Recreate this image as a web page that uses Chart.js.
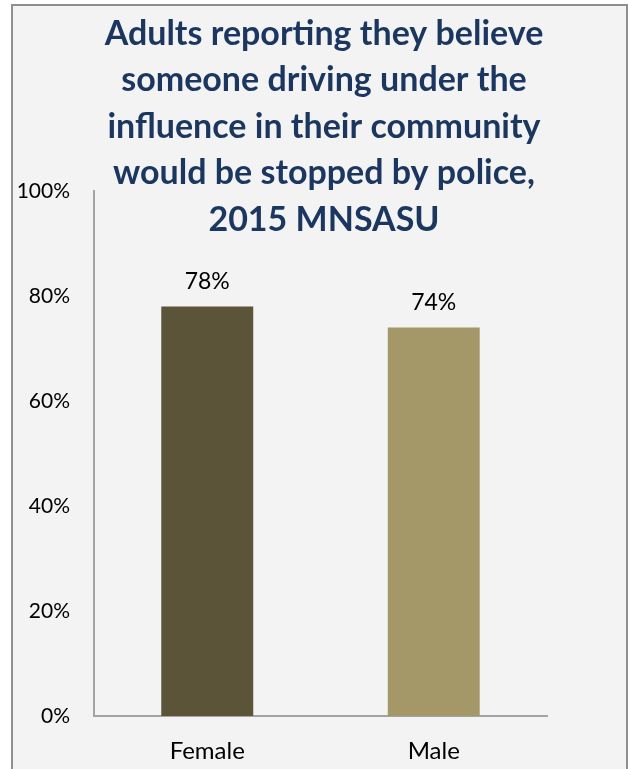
<!DOCTYPE html>
<html>
<head>
<meta charset="utf-8">
<script src="https://cdn.jsdelivr.net/npm/chart.js@4.4.1/dist/chart.umd.min.js"></script>
<style>
  html, body { margin: 0; padding: 0; background: #ffffff; }
  #wrap { width: 628px; height: 769px; position: relative; }
</style>
</head>
<body>
<div id="wrap"><canvas id="chart"></canvas></div>
<script>
// chart data
const categories = ['Female', 'Male'];
const percentValues = [78, 74];
const barColors = ['#5c5438', '#a59868'];
const titleLines = [
  'Adults reporting they believe',
  'someone driving under the',
  'influence in their community',
  'would be stopped by police,',
  '2015 MNSASU'
];

const FONT = 'Lato, "Open Sans", sans-serif';

// grey panel with a border behind everything
const panelPlugin = {
  id: 'panel',
  beforeDraw(chart) {
    const ctx = chart.ctx;
    ctx.save();
    ctx.fillStyle = '#ffffff';
    ctx.fillRect(0, 0, chart.width, chart.height);
    ctx.fillStyle = '#f3f3f3';
    ctx.fillRect(12, 5, 615, 780);
    ctx.strokeStyle = '#8f8f8f';
    ctx.lineWidth = 2;
    ctx.strokeRect(12, 5, 615, 780);
    ctx.restore();
  }
};

// multi-line title that sits over the top of the plot
const titlePlugin = {
  id: 'bigTitle',
  afterDraw(chart) {
    const ctx = chart.ctx;
    ctx.save();
    ctx.fillStyle = '#1b365f';
    ctx.font = 'bold 34px ' + FONT;
    ctx.textAlign = 'center';
    ctx.textBaseline = 'middle';
    titleLines.forEach((line, i) => {
      ctx.fillText(line, 324, 34 + i * 46.5);
    });
    ctx.restore();
  }
};

// percentage labels above each bar
const valueLabels = {
  id: 'valueLabels',
  afterDatasetsDraw(chart) {
    const ctx = chart.ctx;
    const meta = chart.getDatasetMeta(0);
    ctx.save();
    ctx.fillStyle = '#000000';
    ctx.font = '23px ' + FONT;
    ctx.textAlign = 'center';
    ctx.textBaseline = 'middle';
    meta.data.forEach((bar, i) => {
      ctx.fillText(percentValues[i] + '%', bar.x, bar.y - 25);
    });
    ctx.restore();
  }
};

new Chart(document.getElementById('chart'), {
  type: 'bar',
  data: {
    labels: categories,
    datasets: [{
      data: percentValues,
      backgroundColor: barColors,
      borderWidth: 0,
      barPercentage: 0.406,
      categoryPercentage: 1
    }]
  },
  options: {
    responsive: true,
    maintainAspectRatio: false,
    animation: false,
    layout: { padding: { left: 0, right: 81, top: 191, bottom: 0 } },
    plugins: {
      legend: { display: false },
      title: { display: false },
      tooltip: { enabled: false }
    },
    scales: {
      x: {
        grid: { display: false, drawTicks: false },
        border: { display: true, color: '#a3a3a3', width: 2 },
        ticks: { color: '#000000', font: { family: FONT, size: 24 }, padding: 21 },
        afterFit(scale) { scale.height = 53; }
      },
      y: {
        min: 0,
        max: 100,
        grid: { display: false, drawTicks: false },
        border: { display: true, color: '#a3a3a3', width: 2 },
        ticks: {
          stepSize: 20,
          color: '#000000',
          font: { family: FONT, size: 21 },
          padding: 24,
          callback: v => v + '%'
        },
        afterFit(scale) { scale.width = 94; }
      }
    }
  },
  plugins: [panelPlugin, valueLabels, titlePlugin]
});
</script>
</body>
</html>
